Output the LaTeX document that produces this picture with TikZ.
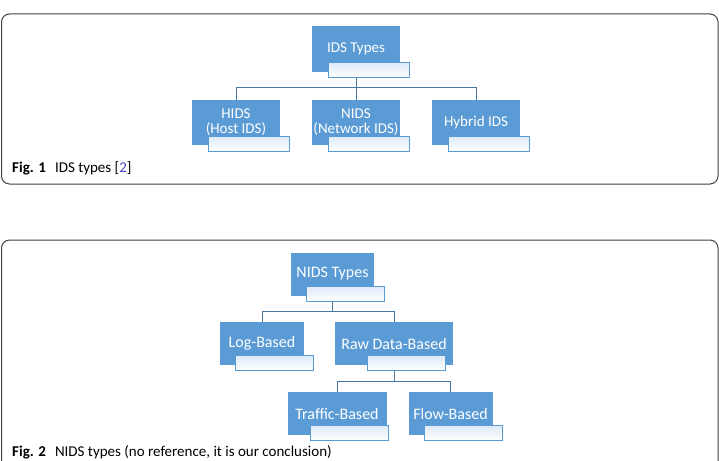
\documentclass[tikz,border=0pt]{standalone}
\usepackage{fontspec}
\setmainfont{Carlito}
\usepackage{tikz}
\usepackage{xcolor}
\definecolor{boxblue}{RGB}{91,155,213}
\definecolor{tabblue}{RGB}{222,234,248}
\definecolor{linkblue}{RGB}{74,118,162}
\definecolor{framegray}{RGB}{64,64,64}
\definecolor{citeblue}{RGB}{72,72,204}

\begin{document}
\begin{tikzpicture}[x=1pt,y=-1pt,
  box/.style={fill=boxblue, text=white, align=center, inner sep=0pt, minimum width=88.5pt, minimum height=45pt, font=\fontsize{15}{15}\selectfont},
  tabbox/.style={draw=boxblue, line width=0.8pt, top color=tabblue, bottom color=white, inner sep=0pt, minimum width=81pt, minimum height=15pt},
  link/.style={draw=linkblue, line width=0.9pt},
  frame/.style={draw=framegray, line width=1pt, rounded corners=8pt},
  figcap/.style={anchor=base west, inner sep=0pt, font=\fontsize{15}{15}\selectfont}]
\useasboundingbox (0,0) rectangle (719,460);

% Fig. 1: IDS types
\draw[frame] (1.5,14) rectangle (718,184);
\node[box] (ids) at (356,49) {IDS Types};
\node[box] (hids) at (236,122.5) {HIDS\\(Host IDS)};
\node[box] (nids) at (356,122.5) {NIDS\\(Network IDS)};
\node[box] (hyb) at (476,122.5) {Hybrid IDS};
\draw[link] (ids.south) -- ++(0,16) -| (hids.north);
\draw[link] (ids.south) -- ++(0,16) -| (hyb.north);
\draw[link] (ids.south) -- (nids.north);
\node[tabbox] (idsT) at ([xshift=13pt,yshift=1.5pt]ids.south) {};
\node[tabbox] (hidsT) at ([xshift=13pt,yshift=1.5pt]hids.south) {};
\node[tabbox] (nidsT) at ([xshift=13pt,yshift=1.5pt]nids.south) {};
\node[tabbox] (hybT) at ([xshift=13pt,yshift=1.5pt]hyb.south) {};
\node[figcap] (cap1) at (12,172) {\textbf{Fig. 1}\hspace{9pt}IDS types [\textcolor{citeblue}{2}]};

% Fig. 2: NIDS types
\draw[frame] (1.5,240) rectangle (718,480);
\begin{scope}[box/.append style={minimum height=43pt, font=\fontsize{16}{16}\selectfont},
  tabbox/.append style={minimum width=78pt}]
\node[box, minimum width=83pt] (nt) at (332.5,274) {NIDS Types};
\node[box, minimum width=84pt] (log) at (262,343.5) {Log-Based};
\node[box, minimum width=118pt] (raw) at (394,343.5) {Raw Data-Based};
\node[box, minimum width=99pt] (traf) at (337,413.5) {Traffic-Based};
\node[box, minimum width=84pt] (flow) at (450.5,413.5) {Flow-Based};
\draw[link] (nt.south) -- ++(0,16) -| (log.north);
\draw[link] (nt.south) -- ++(0,16) -| (raw.north);
\draw[link] (raw.south) -- ++(0,16) -| (traf.north);
\draw[link] (raw.south) -- ++(0,16) -| (flow.north);
\node[tabbox] (ntT) at ([xshift=12.5pt,yshift=2pt]nt.south) {};
\node[tabbox] (logT) at ([xshift=12.5pt,yshift=2pt]log.south) {};
\node[tabbox] (rawT) at ([xshift=12.5pt,yshift=2pt]raw.south) {};
\node[tabbox] (trafT) at ([xshift=12.5pt,yshift=2pt]traf.south) {};
\node[tabbox] (flowT) at ([xshift=12.5pt,yshift=2pt]flow.south) {};
\end{scope}
\node[figcap] (cap2) at (12,456) {\textbf{Fig. 2}\hspace{9pt}NIDS types (no reference, it is our conclusion)};
\end{tikzpicture}
\end{document}
